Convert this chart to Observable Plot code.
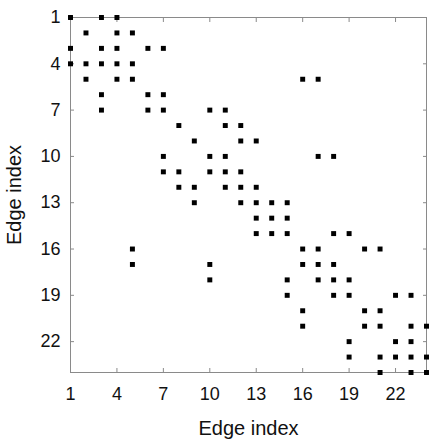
<!DOCTYPE html>
<html>
<head>
<meta charset="utf-8">
<script src="https://cdn.jsdelivr.net/npm/d3@7"></script>
<script src="https://cdn.jsdelivr.net/npm/@observablehq/plot@0.6"></script>
<style>
  html, body { margin: 0; padding: 0; background: #fff; }
  #chart svg { display: block; }
</style>
</head>
<body>
<div id="chart"></div>
<script>
// Edge indices (rows) and the column indices of nonzero entries in each row
const edgeIndex = d3.range(1, 25);
const nonzeroColumns = [
  [1, 3, 4],
  [2, 4, 5],
  [1, 3, 4, 6, 7],
  [1, 2, 3, 4, 5],
  [2, 4, 5, 16, 17],
  [3, 6, 7],
  [3, 6, 7, 10, 11],
  [8, 11, 12],
  [9, 12, 13],
  [7, 10, 11, 17, 18],
  [7, 8, 10, 11, 12],
  [8, 9, 11, 12, 13],
  [9, 12, 13, 14, 15],
  [13, 14, 15],
  [13, 14, 15, 18, 19],
  [5, 16, 17, 20, 21],
  [5, 10, 16, 17, 18],
  [10, 15, 17, 18, 19],
  [15, 18, 19, 22, 23],
  [16, 20, 21],
  [16, 20, 21, 23, 24],
  [19, 22, 23],
  [19, 21, 22, 23, 24],
  [21, 23, 24]
];
const tickValues = [1, 4, 7, 10, 13, 16, 19, 22];
const axisLabel = "Edge index";

const entries = edgeIndex.flatMap((row, i) =>
  nonzeroColumns[i].map(col => ({row, col}))
);

const frameColor = "#8a8a8a";
const noText = () => "";

const chart = Plot.plot({
  width: 439,
  height: 442,
  marginLeft: 70,
  marginTop: 17,
  marginRight: 13,
  marginBottom: 70,
  style: {fontFamily: "'Liberation Sans', Arial, sans-serif", fontSize: "18px", color: "#111", background: "#fff"},
  x: {domain: [1, 24]},
  y: {domain: [1, 24], reverse: true},
  marks: [
    Plot.frame({stroke: frameColor}),
    // tick labels
    Plot.axisX({anchor: "bottom", ticks: tickValues, tickSize: 0, tickPadding: 15, label: null, fontSize: 18}),
    Plot.axisY({anchor: "left", ticks: tickValues, tickSize: 0, tickPadding: 10, label: null, fontSize: 18}),
    // axis titles
    Plot.axisX({anchor: "bottom", ticks: tickValues, tickSize: 0, tickFormat: noText, label: axisLabel, labelAnchor: "center", labelOffset: 62, labelArrow: false, fontSize: 20}),
    Plot.axisY({anchor: "left", ticks: tickValues, tickSize: 0, tickFormat: noText, label: axisLabel, labelAnchor: "center", labelOffset: 64, labelArrow: false, fontSize: 20}),
    // inward tick marks on all four sides
    Plot.axisX({anchor: "bottom", ticks: tickValues, tickSize: -4, text: null, label: null, stroke: frameColor}),
    Plot.axisX({anchor: "top", ticks: tickValues, tickSize: -4, text: null, label: null, stroke: frameColor}),
    Plot.axisY({anchor: "left", ticks: tickValues, tickSize: -4, text: null, label: null, stroke: frameColor}),
    Plot.axisY({anchor: "right", ticks: tickValues, tickSize: -4, text: null, label: null, stroke: frameColor}),
    Plot.dot(entries, {x: "col", y: "row", symbol: "square", r: 2.8, fill: "#000", stroke: null})
  ]
});
document.getElementById("chart").append(chart);
</script>
</body>
</html>
